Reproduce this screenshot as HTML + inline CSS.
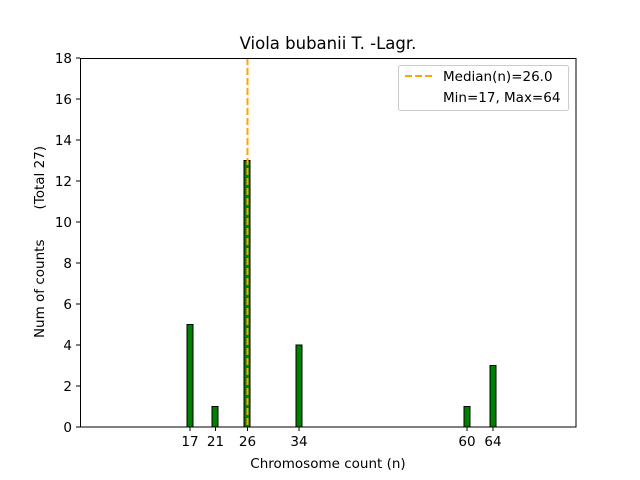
<!DOCTYPE html>
<html><head><meta charset="utf-8"><style>body{margin:0;background:#fff}svg{display:block}text{font-family:"DejaVu Sans","Liberation Sans",sans-serif;fill:#000;white-space:pre}</style></head><body>
<svg width="640" height="480" xmlns="http://www.w3.org/2000/svg">
<rect width="640" height="480" fill="#fff"/>
<g fill="green" stroke="#000" stroke-width="1">
<rect x="187" y="324.5" width="6" height="102.5"/>
<rect x="212" y="406.5" width="6" height="20.5"/>
<rect x="244" y="160.5" width="6" height="266.5"/>
<rect x="296" y="345" width="6" height="82"/>
<rect x="464" y="406.5" width="6" height="20.5"/>
<rect x="490" y="365.5" width="6" height="61.5"/>
</g>
<line x1="247.5" y1="58" x2="247.5" y2="427" stroke="orange" stroke-width="2" stroke-dasharray="7,3"/>
<rect x="80.5" y="58.5" width="495.5" height="368.5" fill="none" stroke="#000" stroke-width="1"/>
<g stroke="#000">
<line x1="80" y1="427" x2="76" y2="427"/><line x1="80" y1="386" x2="76" y2="386"/><line x1="80" y1="345" x2="76" y2="345"/><line x1="80" y1="304" x2="76" y2="304"/><line x1="80" y1="263" x2="76" y2="263"/><line x1="80" y1="222" x2="76" y2="222"/><line x1="80" y1="181" x2="76" y2="181"/><line x1="80" y1="140" x2="76" y2="140"/><line x1="80" y1="99" x2="76" y2="99"/><line x1="80" y1="58" x2="76" y2="58"/>
<line x1="190" y1="427" x2="190" y2="431"/><line x1="215.5" y1="427" x2="215.5" y2="431"/><line x1="247.5" y1="427" x2="247.5" y2="431"/><line x1="299" y1="427" x2="299" y2="431"/><line x1="467" y1="427" x2="467" y2="431"/><line x1="493" y1="427" x2="493" y2="431"/>
</g>
<g font-size="13.5" text-anchor="end">
<text x="72" y="432">0</text><text x="72" y="391">2</text><text x="72" y="350">4</text><text x="72" y="309">6</text><text x="72" y="268">8</text><text x="72" y="227">10</text><text x="72" y="186">12</text><text x="72" y="145">14</text><text x="72" y="104">16</text><text x="72" y="63">18</text>
</g>
<g font-size="13.5" text-anchor="middle">
<text x="190" y="446">17</text><text x="215.5" y="446">21</text><text x="247.5" y="446">26</text><text x="299" y="446">34</text><text x="467" y="446">60</text><text x="493" y="446">64</text>
<text x="328" y="468">Chromosome count (n)</text>
<text x="328" y="49" font-size="16.5">Viola bubanii T. -Lagr.</text>
<text transform="translate(44,242) rotate(-90)" xml:space="preserve">Num of counts       (Total 27)</text>
</g>
<rect x="398.5" y="65.5" width="170" height="45" fill="#fff" stroke="#ccc" rx="2"/>
<line x1="405" y1="76" x2="433" y2="76" stroke="orange" stroke-width="2" stroke-dasharray="7,3"/>
<text x="443" y="81" font-size="13.5">Median(n)=26.0</text>
<text x="443" y="102" font-size="13.5">Min=17, Max=64</text>
</svg>
</body></html>
